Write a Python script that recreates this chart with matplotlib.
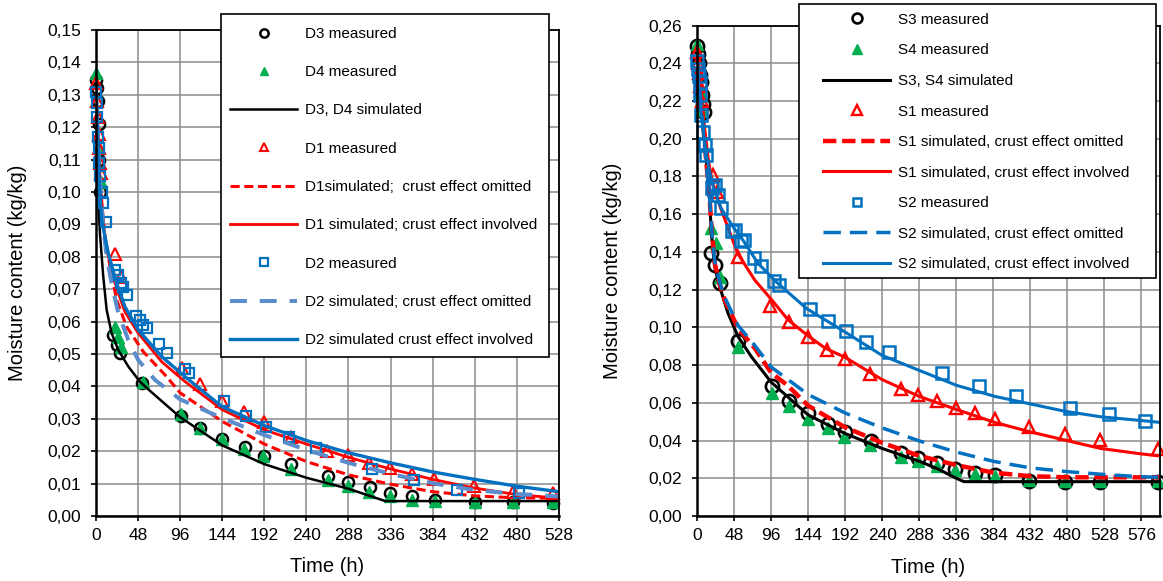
#!/usr/bin/env python3
"""
Drying curves: measured moisture content of D and S samples versus
simulated curves with the crust effect omitted or involved.
"""

import matplotlib
matplotlib.use("Agg")
import matplotlib.pyplot as plt
from matplotlib.patches import Rectangle
from matplotlib.ticker import FuncFormatter, MultipleLocator

plt.rcParams["font.family"] = ["Liberation Sans", "DejaVu Sans"]

# ---------------- left panel: D samples ----------------
d3_t = [0, 1, 2, 3, 4, 5, 20, 24, 27.5, 53, 97, 119, 144, 170, 192, 223, 265, 287, 312, 335, 361, 387, 432, 476, 521]
d3_v = [0.1346, 0.132, 0.128, 0.121, 0.110, 0.100, 0.0559, 0.0528, 0.0502, 0.041, 0.031, 0.0273, 0.0239, 0.0212,
        0.0186, 0.0161, 0.0122, 0.0106, 0.0089, 0.0072, 0.0061, 0.005, 0.0043, 0.0042, 0.004]

d4_t = [0, 3, 6, 22, 25, 29, 54, 97, 119, 144, 169, 191, 223, 265, 287, 311, 335, 361, 387, 432, 476, 521]
d4_v = [0.1368, 0.1135, 0.103, 0.0584, 0.0553, 0.0523, 0.0415, 0.0314, 0.0273, 0.0239, 0.0207, 0.0184, 0.0145,
        0.0112, 0.0093, 0.0074, 0.0061, 0.005, 0.0046, 0.0043, 0.0043, 0.0043]

d1_t = [0, 1, 2, 3, 4, 5, 6, 22, 29, 98, 119, 144, 169, 192, 222, 264, 287, 311, 335, 360, 386, 431, 476, 521]
d1_v = [0.1336, 0.128, 0.123, 0.118, 0.1135, 0.109, 0.106, 0.081, 0.0739, 0.0456, 0.0406, 0.0356, 0.0322, 0.029,
        0.0245, 0.0201, 0.0187, 0.0164, 0.0147, 0.013, 0.0113, 0.0092, 0.0075, 0.007]

d2_t = [0.5, 1, 1.5, 2.5, 3, 4, 5, 7, 8.5, 11, 22, 25, 28, 31, 35, 46, 50, 54, 58, 72, 81, 101, 106, 146, 171,
        194, 220, 251, 315, 363, 412, 483]
d2_v = [0.131, 0.1275, 0.1232, 0.117, 0.1136, 0.109, 0.105, 0.100, 0.0966, 0.0908, 0.0759, 0.0744, 0.072, 0.0708,
        0.0682, 0.0617, 0.0605, 0.059, 0.0579, 0.0531, 0.0504, 0.0453, 0.0442, 0.0355, 0.031, 0.0275, 0.0245,
        0.021, 0.0145, 0.011, 0.008, 0.007]

d34_sim_t = [0, 1, 2, 3, 4.6, 8.3, 12.2, 17.9, 25.5, 37, 50, 60, 96, 144, 192, 240, 288, 320, 330, 528]
d34_sim_v = [0.135, 0.12, 0.105, 0.096, 0.087, 0.074, 0.0636, 0.0564, 0.0512, 0.0461, 0.0415, 0.039, 0.0305,
             0.0218, 0.016, 0.0118, 0.0084, 0.0055, 0.0046, 0.0046]

d1_omit_t = [0, 2, 5, 10, 16, 23.6, 35, 54, 80.6, 96, 144, 192, 240, 288, 336, 384, 432, 480, 528]
d1_omit_v = [0.134, 0.118, 0.100, 0.087, 0.077, 0.0667, 0.0584, 0.0507, 0.043, 0.038, 0.0292, 0.0222, 0.0168,
             0.0127, 0.0098, 0.0075, 0.0062, 0.0056, 0.0055]

d1_inv_t = [0, 2, 5, 10.3, 16, 23.6, 33, 48.3, 75, 101.5, 144, 192, 240, 288, 336, 384, 432, 480, 528]
d1_inv_v = [0.134, 0.12, 0.103, 0.0852, 0.078, 0.0703, 0.063, 0.0564, 0.0476, 0.0415, 0.0328, 0.0266, 0.0222,
            0.0181, 0.0145, 0.0113, 0.0086, 0.0066, 0.0055]

d2_omit_t = [0, 2, 5, 8, 12.2, 17.9, 25.5, 36.9, 48.3, 67.3, 96, 144, 192, 240, 288, 336, 384, 432, 480, 528]
d2_omit_v = [0.132, 0.118, 0.102, 0.09, 0.080, 0.0718, 0.0626, 0.0543, 0.0481, 0.042, 0.036, 0.0302, 0.025,
             0.0204, 0.0164, 0.013, 0.0101, 0.008, 0.0068, 0.006]

d2_inv_t = [0, 2, 4, 6.5, 14, 23.6, 33, 48.3, 75, 101.5, 144, 192, 240, 288, 336, 384, 432, 480, 528]
d2_inv_v = [0.133, 0.118, 0.102, 0.0914, 0.0811, 0.0718, 0.0646, 0.0574, 0.0492, 0.043, 0.0337, 0.0279, 0.0233,
            0.0195, 0.0164, 0.0136, 0.0113, 0.0092, 0.0075]

# ---------------- right panel: S samples ----------------
s3_t = [0, 1, 2.4, 3.5, 4.8, 6.3, 7.3, 8.5, 18.6, 23, 29.4, 53.2, 96.8, 119.6, 143.8, 169.4, 192, 225, 265, 287,
        311, 335, 360.6, 386, 430.8, 476.8, 522.8, 596.8]
s3_v = [0.249, 0.245, 0.240, 0.234, 0.230, 0.2234, 0.2184, 0.2141, 0.1393, 0.1331, 0.1234, 0.093, 0.0688, 0.061,
        0.0546, 0.0487, 0.0447, 0.0398, 0.0333, 0.0305, 0.028, 0.025, 0.023, 0.0215, 0.0187, 0.0181, 0.0181, 0.0181]

s4_t = [0, 3, 5, 7, 18.6, 25, 29.4, 53.2, 96.8, 119.6, 143.8, 169.4, 191, 224, 265, 287, 311, 335, 360.6, 386,
        430.8, 476.8, 522.8, 596.8]
s4_v = [0.2501, 0.235, 0.225, 0.215, 0.1525, 0.1446, 0.1269, 0.0898, 0.0654, 0.0585, 0.0516, 0.0467, 0.0418,
        0.0378, 0.0315, 0.0293, 0.0264, 0.0244, 0.0225, 0.0211, 0.0191, 0.0185, 0.0185, 0.0185]

s1_t = [0, 1.5, 3, 4.5, 6, 20.8, 26.5, 53.2, 94.3, 119.6, 143.8, 168.4, 191.2, 224, 265, 287, 311, 335.4, 360.6,
        386, 430.8, 476.8, 522.8, 597.8]
s1_v = [0.2462, 0.24, 0.235, 0.228, 0.22, 0.1808, 0.172, 0.1375, 0.1115, 0.1028, 0.0949, 0.088, 0.0831, 0.0752,
        0.0674, 0.0644, 0.0609, 0.0575, 0.0546, 0.0516, 0.0473, 0.0433, 0.0402, 0.0355]

s2_t = [0, 1.3, 2.5, 3.5, 4.5, 5.6, 7.8, 10, 12.1, 19.4, 23, 27.2, 31.5, 46, 48.9, 56.6, 60.5, 74, 83.3, 99.2,
        106.5, 146.7, 169.4, 193.6, 219.3, 249.3, 317, 365.4, 412.9, 484, 533.9, 580.8]
s2_v = [0.241, 0.237, 0.233, 0.2303, 0.2232, 0.2126, 0.2038, 0.1967, 0.1914, 0.1737, 0.1755, 0.1702, 0.1632,
        0.151, 0.1516, 0.146, 0.1463, 0.137, 0.1324, 0.1245, 0.1225, 0.1097, 0.1032, 0.0979, 0.092, 0.0867,
        0.0756, 0.0689, 0.0638, 0.0575, 0.054, 0.0506]

s34_sim_t = [0, 4, 8, 12, 16.4, 18.6, 23, 29.4, 40.2, 53.2, 70.4, 96, 144, 192, 240, 288, 312, 336, 346, 600]
s34_sim_v = [0.249, 0.229, 0.209, 0.189, 0.1675, 0.15, 0.132, 0.1216, 0.1075, 0.0951, 0.0845, 0.071, 0.0536,
             0.0437, 0.0358, 0.029, 0.025, 0.020, 0.0182, 0.0182]

s1_omit_t = [0, 4, 8, 12, 16.4, 19, 23, 29.4, 35.9, 53.2, 74.8, 96, 118, 144, 192, 240, 288, 336, 384, 432, 480,
             528, 600]
s1_omit_v = [0.247, 0.228, 0.208, 0.188, 0.168, 0.152, 0.134, 0.123, 0.1145, 0.0995, 0.089, 0.076, 0.069, 0.0585,
             0.047, 0.0388, 0.0319, 0.027, 0.023, 0.0211, 0.0205, 0.0205, 0.0205]

s2_omit_t = [0, 4, 8, 12, 16.4, 19, 23, 29.4, 35.9, 53.2, 74.8, 96, 144, 192, 240, 288, 336, 384, 432, 480, 528,
             576, 600]
s2_omit_v = [0.24, 0.224, 0.206, 0.187, 0.168, 0.152, 0.135, 0.124, 0.116, 0.101, 0.0905, 0.079, 0.0644, 0.0546,
             0.0467, 0.0398, 0.0339, 0.029, 0.0255, 0.0235, 0.022, 0.0208, 0.0205]

s1_inv_t = [0, 5, 10, 15, 20, 25, 30, 40, 53, 75, 96, 118, 144, 166, 192, 240, 288, 336, 386, 431, 477, 523, 576,
            600]
s1_inv_v = [0.2466, 0.225, 0.205, 0.188, 0.177, 0.170, 0.164, 0.153, 0.139, 0.125, 0.115, 0.104, 0.0955, 0.089,
            0.0841, 0.0723, 0.0634, 0.0565, 0.0496, 0.0447, 0.0402, 0.0358, 0.0329, 0.0318]

s2_inv_t = [0, 5, 10, 15, 20, 25, 31.5, 49, 60, 79, 103, 142, 166, 192, 240, 288, 336, 386, 431, 477, 523, 576,
            600]
s2_inv_v = [0.2387, 0.215, 0.197, 0.185, 0.176, 0.170, 0.163, 0.152, 0.146, 0.134, 0.124, 0.110, 0.104, 0.0975,
            0.0851, 0.0772, 0.0693, 0.0634, 0.0595, 0.0555, 0.0526, 0.0506, 0.0496]

left_labels = ["D3 measured", "D4 measured", "D3, D4 simulated", "D1 measured",
               "D1simulated;  crust effect omitted", "D1 simulated; crust effect involved",
               "D2 measured", "D2 simulated; crust effect omitted", "D2 simulated crust effect involved"]
right_labels = ["S3 measured", "S4 measured", "S3, S4 simulated", "S1 measured",
                "S1 simulated, crust effect omitted", "S1 simulated, crust effect involved",
                "S2 measured", "S2 simulated, crust effect omitted", "S2 simulated, crust effect involved"]

BLACK = "#000000"
GREEN = "#00B050"
RED = "#FF0000"
BLUE = "#0070C0"
LIGHT_BLUE = "#5B8CCB"


def comma_fmt(v, _):
    return f"{v:.2f}".replace(".", ",")


def setup_axes(ax, xmax, ymax, ystep, label_x):
    """Excel-like frame, grid and comma decimal ticks."""
    ax.set_xlim(0, xmax)
    ax.set_ylim(0, ymax)
    ax.xaxis.set_major_locator(MultipleLocator(48))
    ax.yaxis.set_major_locator(MultipleLocator(ystep))
    ax.yaxis.set_major_formatter(FuncFormatter(comma_fmt))
    ax.grid(True, color="#8c8c8c", lw=1.1)
    ax.set_axisbelow(True)
    for side in ("left", "bottom"):
        ax.spines[side].set_linewidth(1.8)
    for side in ("top", "right"):
        ax.spines[side].set_linewidth(1.3)
    ax.tick_params(direction="out", length=3.5, width=1.2, labelsize=12.5)
    ax.tick_params(axis="y", pad=7)
    ax.tick_params(axis="x", pad=5)
    ax.set_xlabel("Time (h)", fontsize=14.5)
    ax.set_ylabel("Moisture content (kg/kg)", fontsize=14.5)
    ax.xaxis.set_label_coords(0.5, -0.085)
    ax.yaxis.set_label_coords(label_x, 0.5)


def add_legend(ax, labels, box, anchor, labelspacing):
    """White framed box (figure coords) with a frameless legend on top of it."""
    fig = ax.figure
    ax.add_patch(Rectangle(box[:2], box[2], box[3], transform=fig.transFigure, clip_on=False,
                           facecolor="white", edgecolor="black", lw=1.2, zorder=15))
    leg = ax.legend(ax.get_lines(), labels, loc="upper left", bbox_to_anchor=anchor,
                    bbox_transform=fig.transFigure, borderaxespad=0, borderpad=0,
                    fontsize=11, frameon=False, labelspacing=labelspacing, handlelength=4.4,
                    handletextpad=0.5, markerscale=0.75, numpoints=1)
    leg.set_zorder(20)


def plot_left(ax):
    mk = dict(ls="none", clip_on=False)
    ax.plot(d3_t, d3_v, marker="o", ms=8, mfc="none", mec=BLACK, mew=1.8, **mk)
    ax.plot(d4_t, d4_v, marker="^", ms=8, mfc=GREEN, mec=GREEN, mew=1, **mk)
    ax.plot(d34_sim_t, d34_sim_v, color=BLACK, lw=1.8)
    ax.plot(d1_t, d1_v, marker="^", ms=8, mfc="none", mec=RED, mew=1.5, **mk)
    ax.plot(d1_omit_t, d1_omit_v, color=RED, lw=2.2, dashes=(3, 1.5))
    ax.plot(d1_inv_t, d1_inv_v, color=RED, lw=2.0)
    ax.plot(d2_t, d2_v, marker="s", ms=7.5, mfc="none", mec=BLUE, mew=1.6, **mk)
    ax.plot(d2_omit_t, d2_omit_v, color=LIGHT_BLUE, lw=2.9, dashes=(4.2, 3.2))
    ax.plot(d2_inv_t, d2_inv_v, color=BLUE, lw=2.4)
    setup_axes(ax, 528, 0.15, 0.01, -0.149)
    add_legend(ax, left_labels, (0.190, 0.3855, 0.2824, 0.5907), (0.1978, 0.9537), 1.59)


def plot_right(ax):
    mk = dict(ls="none", clip_on=False)
    ax.plot(s3_t, s3_v, marker="o", ms=9.5, mfc="none", mec=BLACK, mew=1.9, **mk)
    ax.plot(s4_t, s4_v, marker="^", ms=9, mfc=GREEN, mec=GREEN, mew=1, **mk)
    ax.plot(s34_sim_t, s34_sim_v, color=BLACK, lw=2.2)
    ax.plot(s1_t, s1_v, marker="^", ms=9, mfc="none", mec=RED, mew=1.7, **mk)
    ax.plot(s1_omit_t, s1_omit_v, color=RED, lw=3.2, dashes=(3, 1.3))
    ax.plot(s1_inv_t, s1_inv_v, color=RED, lw=2.2)
    ax.plot(s2_t, s2_v, marker="s", ms=8.5, mfc="none", mec=BLUE, mew=1.8, **mk)
    ax.plot(s2_omit_t, s2_omit_v, color=BLUE, lw=2.5, dashes=(5, 2.6))
    ax.plot(s2_inv_t, s2_inv_v, color=BLUE, lw=2.2)
    setup_axes(ax, 600, 0.26, 0.02, -0.163)
    add_legend(ax, right_labels, (0.6873, 0.5215, 0.3063, 0.4721), (0.7077, 0.978), 1.085)


def main():
    fig = plt.figure(figsize=(11.63, 5.81), dpi=100)
    ax_left = fig.add_axes([0.0825, 0.1119, 0.3981, 0.8365])
    ax_right = fig.add_axes([0.5993, 0.1119, 0.3981, 0.8441])
    plot_left(ax_left)
    plot_right(ax_right)
    fig.savefig("out.png", dpi=100)


if __name__ == "__main__":
    main()
